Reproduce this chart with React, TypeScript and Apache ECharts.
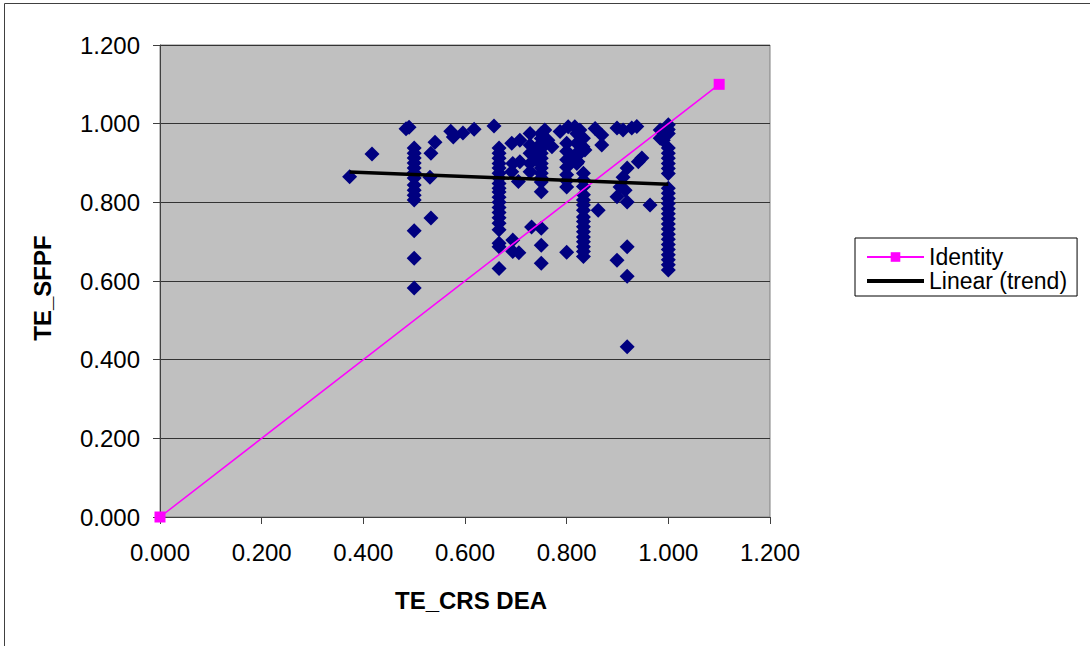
import React, { useEffect, useRef } from "react";
import * as echarts from "echarts";

const xTicks = [0, 0.2, 0.4, 0.6, 0.8, 1.0, 1.2];
const yTicks = [0, 0.2, 0.4, 0.6, 0.8, 1.0, 1.2];

const scatterPoints: [number, number][] = [
  [0.373, 0.865], [0.417, 0.923], [0.49, 0.991], [0.484, 0.987],
  [0.5, 0.938], [0.5, 0.925], [0.5, 0.913], [0.5, 0.9], [0.5, 0.887], [0.5, 0.875],
  [0.5, 0.862], [0.5, 0.844], [0.5, 0.831], [0.5, 0.818], [0.5, 0.806],
  [0.5, 0.728], [0.5, 0.658], [0.5, 0.582],
  [0.531, 0.864], [0.533, 0.76], [0.533, 0.925], [0.541, 0.953],
  [0.572, 0.981], [0.577, 0.966], [0.596, 0.976], [0.618, 0.986], [0.657, 0.994],
  [0.667, 0.938], [0.667, 0.925], [0.667, 0.912], [0.667, 0.899], [0.667, 0.887],
  [0.667, 0.874], [0.667, 0.861], [0.667, 0.848], [0.667, 0.836], [0.667, 0.826],
  [0.667, 0.813], [0.667, 0.8], [0.667, 0.787], [0.667, 0.774], [0.667, 0.761],
  [0.667, 0.747], [0.667, 0.73], [0.667, 0.696], [0.667, 0.687], [0.667, 0.632],
  [0.694, 0.704], [0.694, 0.675], [0.706, 0.672], [0.692, 0.95], [0.708, 0.958],
  [0.694, 0.899], [0.708, 0.903], [0.692, 0.878], [0.705, 0.853],
  [0.728, 0.975], [0.757, 0.984], [0.728, 0.946], [0.728, 0.925], [0.728, 0.899],
  [0.728, 0.878], [0.738, 0.933], [0.741, 0.908],
  [0.75, 0.975], [0.75, 0.962], [0.75, 0.95], [0.75, 0.937], [0.75, 0.925], [0.75, 0.912],
  [0.75, 0.899], [0.75, 0.887], [0.75, 0.874], [0.75, 0.862], [0.75, 0.852], [0.75, 0.827],
  [0.763, 0.958], [0.771, 0.941],
  [0.731, 0.737], [0.75, 0.734], [0.75, 0.691], [0.75, 0.645],
  [0.787, 0.98], [0.803, 0.992], [0.816, 0.992], [0.826, 0.984], [0.8, 0.673],
  [0.8, 0.95], [0.8, 0.93], [0.8, 0.908], [0.8, 0.889], [0.8, 0.87], [0.8, 0.855], [0.8, 0.839],
  [0.826, 0.925], [0.832, 0.941], [0.82, 0.899], [0.82, 0.95], [0.833, 0.963],
  [0.856, 0.988], [0.869, 0.971], [0.869, 0.946], [0.836, 0.933], [0.822, 0.903],
  [0.816, 0.92], [0.82, 0.975],
  [0.833, 0.874], [0.833, 0.857], [0.833, 0.84], [0.833, 0.819], [0.833, 0.806],
  [0.833, 0.793], [0.833, 0.78], [0.833, 0.763], [0.833, 0.751], [0.833, 0.738],
  [0.833, 0.725], [0.833, 0.712], [0.833, 0.7], [0.833, 0.687], [0.833, 0.675], [0.833, 0.662],
  [0.862, 0.78],
  [0.899, 0.989], [0.911, 0.984], [0.928, 0.989], [0.938, 0.993], [0.948, 0.913],
  [0.941, 0.903], [0.919, 0.887], [0.911, 0.864], [0.905, 0.839], [0.899, 0.814],
  [0.915, 0.831], [0.919, 0.801], [0.964, 0.793], [0.919, 0.687], [0.899, 0.653],
  [0.919, 0.612], [0.919, 0.433], [0.984, 0.984], [0.99, 0.958], [0.984, 0.963],
  [1.0, 0.997], [1.0, 0.985], [1.0, 0.975], [1.0, 0.938], [1.0, 0.925], [1.0, 0.912],
  [1.0, 0.899], [1.0, 0.886], [1.0, 0.873], [1.0, 0.836], [1.0, 0.823], [1.0, 0.81],
  [1.0, 0.797], [1.0, 0.784], [1.0, 0.771], [1.0, 0.758], [1.0, 0.745], [1.0, 0.732],
  [1.0, 0.719], [1.0, 0.706], [1.0, 0.693], [1.0, 0.68], [1.0, 0.667], [1.0, 0.654],
  [1.0, 0.641], [1.0, 0.628],
];

const identityPoints: [number, number][] = [[0, 0], [1.1, 1.1]];
const trendPoints: [number, number][] = [[0.373, 0.877], [1.0, 0.846]];

const legendNames = ["Identity", "Linear (trend)"];
const xTitle = "TE_CRS DEA";
const yTitle = "TE_SFPF";

const FONT = "'Liberation Sans', Arial, sans-serif";

export default function App() {
  const ref = useRef<HTMLDivElement>(null);
  useEffect(() => {
    if (!ref.current) return;
    const chart = echarts.init(ref.current, undefined, { renderer: "svg" });
    chart.setOption({
      animation: false,
      backgroundColor: "#ffffff",
      grid: {
        left: 160, top: 45, width: 610, height: 472,
        show: true, backgroundColor: "#C0C0C0", borderColor: "#808080", borderWidth: 1,
      },
      xAxis: {
        type: "value", min: xTicks[0], max: xTicks[xTicks.length - 1], interval: 0.2,
        axisLine: { show: true, lineStyle: { color: "#404040", width: 1 } },
        axisTick: { show: true, length: 7, lineStyle: { color: "#404040" } },
        axisLabel: { margin: 23, fontSize: 24, color: "#000", fontFamily: FONT, formatter: (v: number) => v.toFixed(3) },
        splitLine: { show: false },
      },
      yAxis: {
        type: "value", min: yTicks[0], max: yTicks[yTicks.length - 1], interval: 0.2,
        axisLine: { show: true, lineStyle: { color: "#404040", width: 1 } },
        axisTick: { show: true, length: 7, lineStyle: { color: "#404040" } },
        axisLabel: { margin: 20, fontSize: 24, color: "#000", fontFamily: FONT, formatter: (v: number) => v.toFixed(3) },
        splitLine: { show: true, lineStyle: { color: "#333333", width: 1 } },
      },
      legend: {
        data: [
          { name: legendNames[0] },
          { name: legendNames[1], itemStyle: { opacity: 0 }, lineStyle: { width: 4, color: "#000" } },
        ],
        orient: "vertical",
        left: 855, top: 238,
        padding: [7, 10, 3, 10],
        itemGap: 0,
        itemWidth: 57, itemHeight: 12,
        borderColor: "#000", borderWidth: 1, backgroundColor: "#fff",
        textStyle: { fontSize: 23, lineHeight: 24, color: "#000", fontFamily: FONT },
        selectedMode: false,
      },
      graphic: [
        { type: "rect", shape: { x: 4.5, y: 3.5, width: 2000, height: 2000 }, style: { fill: "none", stroke: "#404040", lineWidth: 1 }, silent: true, z: -1 },
        { type: "text", x: 471, y: 600, style: { text: xTitle, fontSize: 24, fontWeight: "bold", fontFamily: FONT, fill: "#000", textAlign: "center", textVerticalAlign: "middle" } },
        { type: "text", x: 42, y: 288, rotation: Math.PI / 2, style: { text: yTitle, fontSize: 24, fontWeight: "bold", fontFamily: FONT, fill: "#000", textAlign: "center", textVerticalAlign: "middle" } },
      ],
      series: [
        {
          name: "TE", type: "scatter", data: scatterPoints, symbol: "diamond", symbolSize: 15,
          itemStyle: { color: "#000080", opacity: 1 }, z: 2,
        },
        {
          name: "Identity", type: "line", data: identityPoints, symbol: "rect", symbolSize: 11,
          lineStyle: { color: "#FF00FF", width: 1.5 }, itemStyle: { color: "#FF00FF" }, z: 3,
        },
        {
          name: "Linear (trend)", type: "line", data: trendPoints, symbol: "none",
          lineStyle: { color: "#000000", width: 3.5 }, itemStyle: { color: "#000000" }, z: 4,
        },
      ],
    });
    return () => chart.dispose();
  }, []);
  return <div ref={ref} style={{ position: "absolute", left: 0, top: 0, width: 1090, height: 646 }} />;
}
